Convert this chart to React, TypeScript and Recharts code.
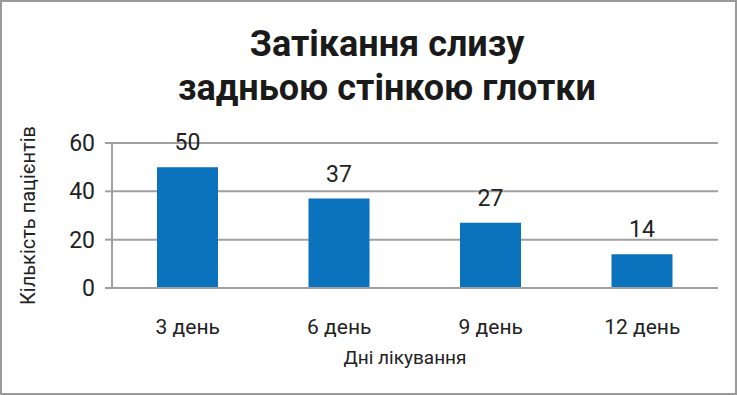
import { BarChart, Bar, XAxis, YAxis, CartesianGrid, LabelList } from "recharts";

const days = ["3 день", "6 день", "9 день", "12 день"];
const patients = [50, 37, 27, 14];
const yTicks = [0, 20, 40, 60];

const data = days.map((day, i) => ({ day, patients: patients[i], pos: i + 0.5 }));

const font = "Roboto, 'Noto Sans', sans-serif";

const App = () => {
  return (
    <div
      style={{
        position: "absolute",
        left: 0,
        top: 0,
        width: 737,
        height: 395,
        boxSizing: "border-box",
        border: "2px solid #9a9a9a",
        background: "#fff",
        fontFamily: font,
      }}
    >
      <div
        style={{
          position: "absolute",
          left: 0,
          top: 20,
          width: 770,
          textAlign: "center",
          fontSize: 36,
          fontWeight: 700,
          lineHeight: "44px",
          color: "#1a1a1a",
        }}
      >
        Затікання слизу
        <br />
        задньою стінкою глотки
      </div>
      <div style={{ position: "absolute", left: -2, top: -2 }}>
        <BarChart
          width={737}
          height={395}
          data={data}
          margin={{ top: 143, right: 19, bottom: 47, left: 52 }}
        >
          <CartesianGrid vertical={false} stroke="#a0a0a0" strokeWidth={2} />
          {/* boundary ticks between categories */}
          <XAxis
            xAxisId="a"
            type="number"
            dataKey="pos"
            domain={[0, 4]}
            ticks={[0, 1, 2, 3, 4]}
            height={1}
            tick={false}
            tickSize={9}
            axisLine={{ stroke: "#a0a0a0", strokeWidth: 2 }}
            tickLine={{ stroke: "#a0a0a0", strokeWidth: 2 }}
          />
          <XAxis
            xAxisId="b"
            dataKey="day"
            height={59}
            axisLine={false}
            tickLine={false}
            tick={{ fill: "#222", fontSize: 21, fontFamily: font }}
            tickMargin={24}
          />
          <YAxis
            width={60}
            domain={[0, 60]}
            ticks={yTicks}
            tickSize={7}
            axisLine={{ stroke: "#a0a0a0", strokeWidth: 2 }}
            tickLine={{ stroke: "#a0a0a0", strokeWidth: 2 }}
            tick={{ fill: "#222", fontSize: 23, fontFamily: font, dx: -8 }}
            label={{
              value: "Кількість пацієнтів",
              angle: -90,
              position: "center",
              dx: -54,
              dy: 0,
              fill: "#222",
              fontSize: 20,
              fontFamily: font,
            }}
          />
          <Bar
            xAxisId="b"
            dataKey="patients"
            fill="#0b72bd"
            barSize={61}
            isAnimationActive={false}
          >
            <LabelList
              dataKey="patients"
              position="top"
              offset={17}
              fill="#222"
              fontSize={23}
              fontFamily={font}
            />
          </Bar>
        </BarChart>
      </div>
      <div
        style={{
          position: "absolute",
          left: 300,
          top: 344,
          width: 206,
          textAlign: "center",
          fontSize: 19,
          color: "#222",
        }}
      >
        Дні лікування
      </div>
    </div>
  );
};

export default App;
